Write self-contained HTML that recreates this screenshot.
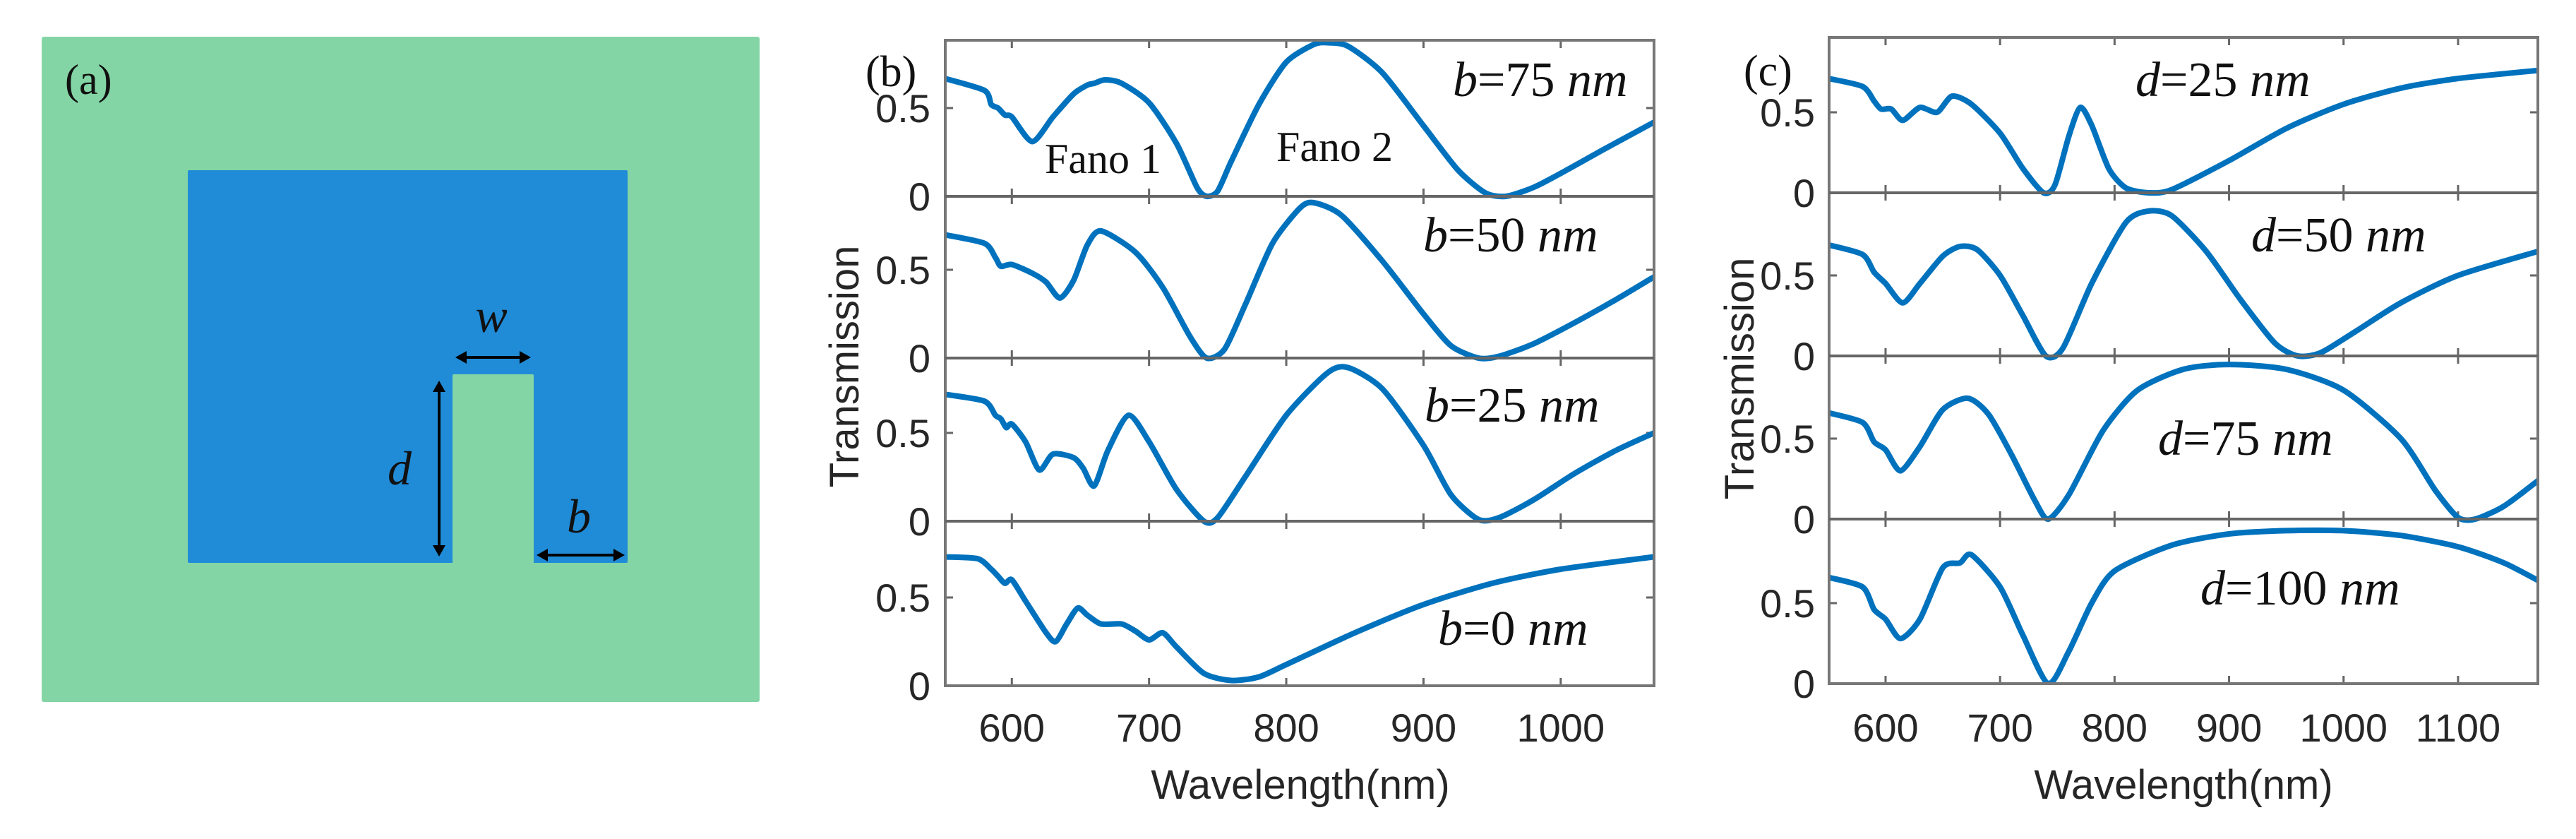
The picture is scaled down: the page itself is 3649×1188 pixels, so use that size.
<!DOCTYPE html>
<html><head><meta charset="utf-8"><style>
html,body{margin:0;padding:0;background:#fff;}
svg{display:block;}
.tk{font-family:"Liberation Sans",Arial,sans-serif;font-size:56px;fill:#262626;}
.ax{font-family:"Liberation Sans",Arial,sans-serif;font-size:58px;fill:#262626;}
.sr{font-family:"Liberation Serif","Times New Roman",serif;fill:#111;}
</style></head><body>
<svg id="fig" width="3649" height="1188" viewBox="0 0 3649 1188" xmlns="http://www.w3.org/2000/svg">
<g>
<rect x="59" y="52" width="1017" height="942" rx="3" fill="#84d5a5"/>
<rect x="266" y="241" width="623" height="556" rx="2" fill="#208cd8"/>
<rect x="641" y="530" width="115" height="268" rx="2" fill="#84d5a5"/>
<text x="92" y="133" class="sr" font-size="60">(a)</text>
<text x="696" y="470" class="sr" font-size="68" font-style="italic" text-anchor="middle">w</text>
<text x="566" y="686" class="sr" font-size="68" font-style="italic" text-anchor="middle">d</text>
<text x="820" y="754" class="sr" font-size="68" font-style="italic" text-anchor="middle">b</text>
<g stroke="#000" stroke-width="4" fill="#000">
<line x1="655" y1="506" x2="742" y2="506"/><path d="M645 506 l16 -9 v18z M752 506 l-16 -9 v18z" stroke="none"/>
<line x1="622" y1="549" x2="622" y2="778"/><path d="M622 539 l-9 16 h18z M622 788 l-9 -16 h18z" stroke="none"/>
<line x1="770" y1="786" x2="875" y2="786"/><path d="M760 786 l16 -9 v18z M885 786 l-16 -9 v18z" stroke="none"/>
</g>
</g>
<g id="pb"></g>
<g id="pc"></g>
</svg>
<script>
// Panel (b) data
const bWl75=[550,580,585,590,595,600,615,630,645,655,660,668,680,700,720,735,742,750,760,780,800,820,830,845,870,900,925,945,960,980,1000,1030,1068];
const bT75=[0.67,0.60,0.52,0.50,0.46,0.45,0.31,0.45,0.58,0.63,0.64,0.66,0.64,0.53,0.30,0.05,0.0,0.03,0.20,0.52,0.76,0.86,0.87,0.85,0.70,0.40,0.15,0.02,0.0,0.05,0.13,0.26,0.42];
const bWl50=[550,580,588,592,600,615,625,635,645,655,665,690,710,730,742,755,770,790,810,820,840,870,900,920,940,955,980,1010,1040,1068];
const bT50=[0.70,0.65,0.57,0.52,0.53,0.48,0.43,0.34,0.44,0.64,0.72,0.60,0.40,0.12,0.0,0.05,0.30,0.65,0.85,0.88,0.81,0.55,0.25,0.07,0.0,0.01,0.08,0.20,0.33,0.46];
const bWl25=[550,580,588,592,596,600,610,620,630,645,652,660,670,685,700,720,740,750,770,800,830,845,870,900,920,940,955,980,1010,1040,1068];
const bT25=[0.72,0.68,0.60,0.58,0.53,0.55,0.45,0.29,0.38,0.36,0.30,0.20,0.40,0.60,0.45,0.18,0.0,0.02,0.25,0.60,0.84,0.87,0.75,0.43,0.15,0.01,0.02,0.12,0.27,0.40,0.50];
const bWl0=[550,575,585,590,595,600,610,625,632,640,648,655,665,680,690,700,710,720,740,760,780,800,850,900,950,1000,1068];
const bT0=[0.73,0.72,0.66,0.62,0.58,0.60,0.48,0.30,0.25,0.35,0.44,0.40,0.35,0.35,0.31,0.26,0.30,0.22,0.07,0.03,0.05,0.12,0.30,0.46,0.58,0.66,0.73];
// Panel (c) data
const cWl25=[550,580,590,596,605,615,630,645,658,675,700,720,738,748,760,770,780,795,810,830,850,900,950,1000,1050,1100,1170];
const cT25=[0.71,0.66,0.57,0.52,0.52,0.45,0.53,0.50,0.60,0.55,0.37,0.15,0.0,0.05,0.35,0.53,0.42,0.15,0.03,0.0,0.02,0.20,0.40,0.55,0.65,0.71,0.76];
const cWl50=[550,580,590,600,615,630,650,665,680,700,720,740,755,780,810,830,850,880,910,940,960,980,1010,1050,1100,1170];
const cT50=[0.69,0.63,0.52,0.45,0.33,0.45,0.62,0.68,0.66,0.50,0.25,0.0,0.05,0.45,0.83,0.90,0.87,0.65,0.35,0.08,0.0,0.02,0.15,0.33,0.50,0.65];
const cWl75=[550,580,590,600,613,630,650,672,690,710,730,742,760,790,820,860,900,950,1000,1050,1080,1100,1115,1140,1170];
const cT75=[0.66,0.60,0.48,0.43,0.30,0.45,0.68,0.75,0.65,0.40,0.12,0.0,0.15,0.55,0.80,0.93,0.96,0.93,0.80,0.50,0.18,0.01,0.0,0.08,0.24];
const cWl100=[550,580,590,600,613,630,650,665,675,700,720,742,760,780,800,850,900,950,1000,1050,1100,1140,1170];
const cT100=[0.66,0.60,0.46,0.40,0.28,0.40,0.72,0.75,0.80,0.60,0.30,0.0,0.20,0.50,0.70,0.86,0.93,0.95,0.95,0.92,0.85,0.75,0.64];
const bLabels=["b=75","b=50","b=25","b=0"];
const cLabels=["d=25","d=50","d=75","d=100"];
const bTicks=[600,700,800,900,1000];
const cTicks=[600,700,800,900,1000,1100];
const yTicks=[0,0.5];

const NS="http://www.w3.org/2000/svg";
function mk(tag,attrs,parent){const e=document.createElementNS(NS,tag);for(const k in attrs)e.setAttribute(k,attrs[k]);parent.appendChild(e);return e;}
function smooth(pts){let d="M"+pts[0][0].toFixed(1)+" "+pts[0][1].toFixed(1);
 const k=8;
 for(let i=0;i<pts.length-1;i++){const p0=pts[i-1]||pts[i],p1=pts[i],p2=pts[i+1],p3=pts[i+2]||p2;
  const c1=[p1[0]+(p2[0]-p0[0])/k,p1[1]+(p2[1]-p0[1])/k],c2=[p2[0]-(p3[0]-p1[0])/k,p2[1]-(p3[1]-p1[1])/k];
  d+=" C"+c1[0].toFixed(1)+" "+c1[1].toFixed(1)+" "+c2[0].toFixed(1)+" "+c2[1].toFixed(1)+" "+p2[0].toFixed(1)+" "+p2[1].toFixed(1);}
 return d;}

function panel(g,cfg){
 const xs=v=>cfg.L+(v-cfg.x0)/(cfg.x1-cfg.x0)*(cfg.R-cfg.L);
 const bd=cfg.bounds;
 const clipId="clip"+cfg.id;
 const cp=mk("clipPath",{id:clipId},g);mk("rect",{x:cfg.L,y:bd[0],width:cfg.R-cfg.L,height:bd[4]-bd[0]},cp);
 for(let s=0;s<4;s++){
  const top=bd[s],bot=bd[s+1];
  const ys=v=>bot-v*cfg.unit;
  cfg.ticks.forEach(t=>{
   const tk1=mk("line",{x1:xs(t),x2:xs(t),y1:top,y2:top+11,stroke:"#666","stroke-width":3},g);
   
   
   const tk2=mk("line",{x1:xs(t),x2:xs(t),y1:bot,y2:bot-11,stroke:"#666","stroke-width":3},g);
   
   
  });
  yTicks.forEach(t=>{
   const y=ys(t);
   const a=mk("line",{x1:cfg.L,x2:cfg.L+11,y1:y,y2:y,stroke:"#666","stroke-width":3},g);
   
   
   const b=mk("line",{x1:cfg.R,x2:cfg.R-11,y1:y,y2:y,stroke:"#666","stroke-width":3},g);
   
   
   const tl=mk("text",{x:cfg.tickR,y:y+20,"text-anchor":"end",class:"tk"},g);
   tl.textContent=t===0?"0":"0.5";
   
   
  });
  const wl=cfg.wl[s],tv=cfg.t[s];
  const pts=wl.map((w,i)=>[xs(w),ys(tv[i])]);
  const p=mk("path",{d:smooth(pts),fill:"none",stroke:"#0072bd","stroke-width":8,"stroke-linejoin":"round","clip-path":"url(#"+clipId+")"},g);
  
  
  const [nm,val]=cfg.labels[s].split("=");
  const an=mk("text",{x:cfg.annX[s],y:cfg.annY[s],class:"sr","font-size":70},g);
  
  
  const t1=mk("tspan",{"font-style":"italic"},an);t1.textContent=nm;
  const t2=mk("tspan",{},an);t2.textContent="="+val+" ";
  const t3=mk("tspan",{"font-style":"italic"},an);t3.textContent="nm";
 }
 const fr=mk("rect",{x:cfg.L,y:bd[0],width:cfg.R-cfg.L,height:bd[4]-bd[0],fill:"none",stroke:"#777","stroke-width":4},g);
 
 
 for(let s=1;s<4;s++){const l=mk("line",{x1:cfg.L,x2:cfg.R,y1:bd[s],y2:bd[s],stroke:"#666","stroke-width":4},g);
  
  }
 cfg.ticks.forEach(t=>{const tl=mk("text",{x:xs(t),y:1050,"text-anchor":"middle",class:"tk"},g);tl.textContent=t;
  
  });
 const xl=mk("text",{x:cfg.xlX,y:1131,"text-anchor":"middle",class:"ax"},g);xl.textContent="Wavelength(nm)";
 
 
 const yl=mk("text",{x:0,y:0,"text-anchor":"middle",class:"ax",transform:"translate("+cfg.ylX+","+cfg.ylY+") rotate(-90)"},g);yl.textContent="Transmission";
 
 
 const pl=mk("text",{x:cfg.plX,y:cfg.plY,class:"sr","font-size":62},g);pl.textContent=cfg.plabel;
 
 
}

panel(document.getElementById("pb"),{id:"b",L:1339,R:2343,x0:551.5,x1:1068,bounds:[57,278,507,738,971],unit:250,
 ticks:bTicks,tickR:1318,wl:[bWl75,bWl50,bWl25,bWl0],t:[bT75,bT50,bT25,bT0],labels:bLabels,
 annX:[2058,2016,2018,2037],annY:[136,356,597,913],xlX:1842,ylX:1216,ylY:519,plX:1226,plY:122,plabel:"(b)"});
panel(document.getElementById("pc"),{id:"c",L:2591,R:3595,x0:550.7,x1:1169.7,bounds:[53,273,504,735,968],unit:228,
 ticks:cTicks,tickR:2571,wl:[cWl25,cWl50,cWl75,cWl100],t:[cT25,cT50,cT75,cT100],labels:cLabels,
 annX:[3025,3189,3057,3117],annY:[136,356,644,856],xlX:3093,ylX:2484,ylY:536,plX:2470,plY:121,plabel:"(c)"});
const pb=document.getElementById("pb");
const f1=mk("text",{x:1480,y:245,class:"sr","font-size":60},pb);f1.textContent="Fano 1";


const f2=mk("text",{x:1808,y:228,class:"sr","font-size":60},pb);f2.textContent="Fano 2";


</script>
</body></html>
